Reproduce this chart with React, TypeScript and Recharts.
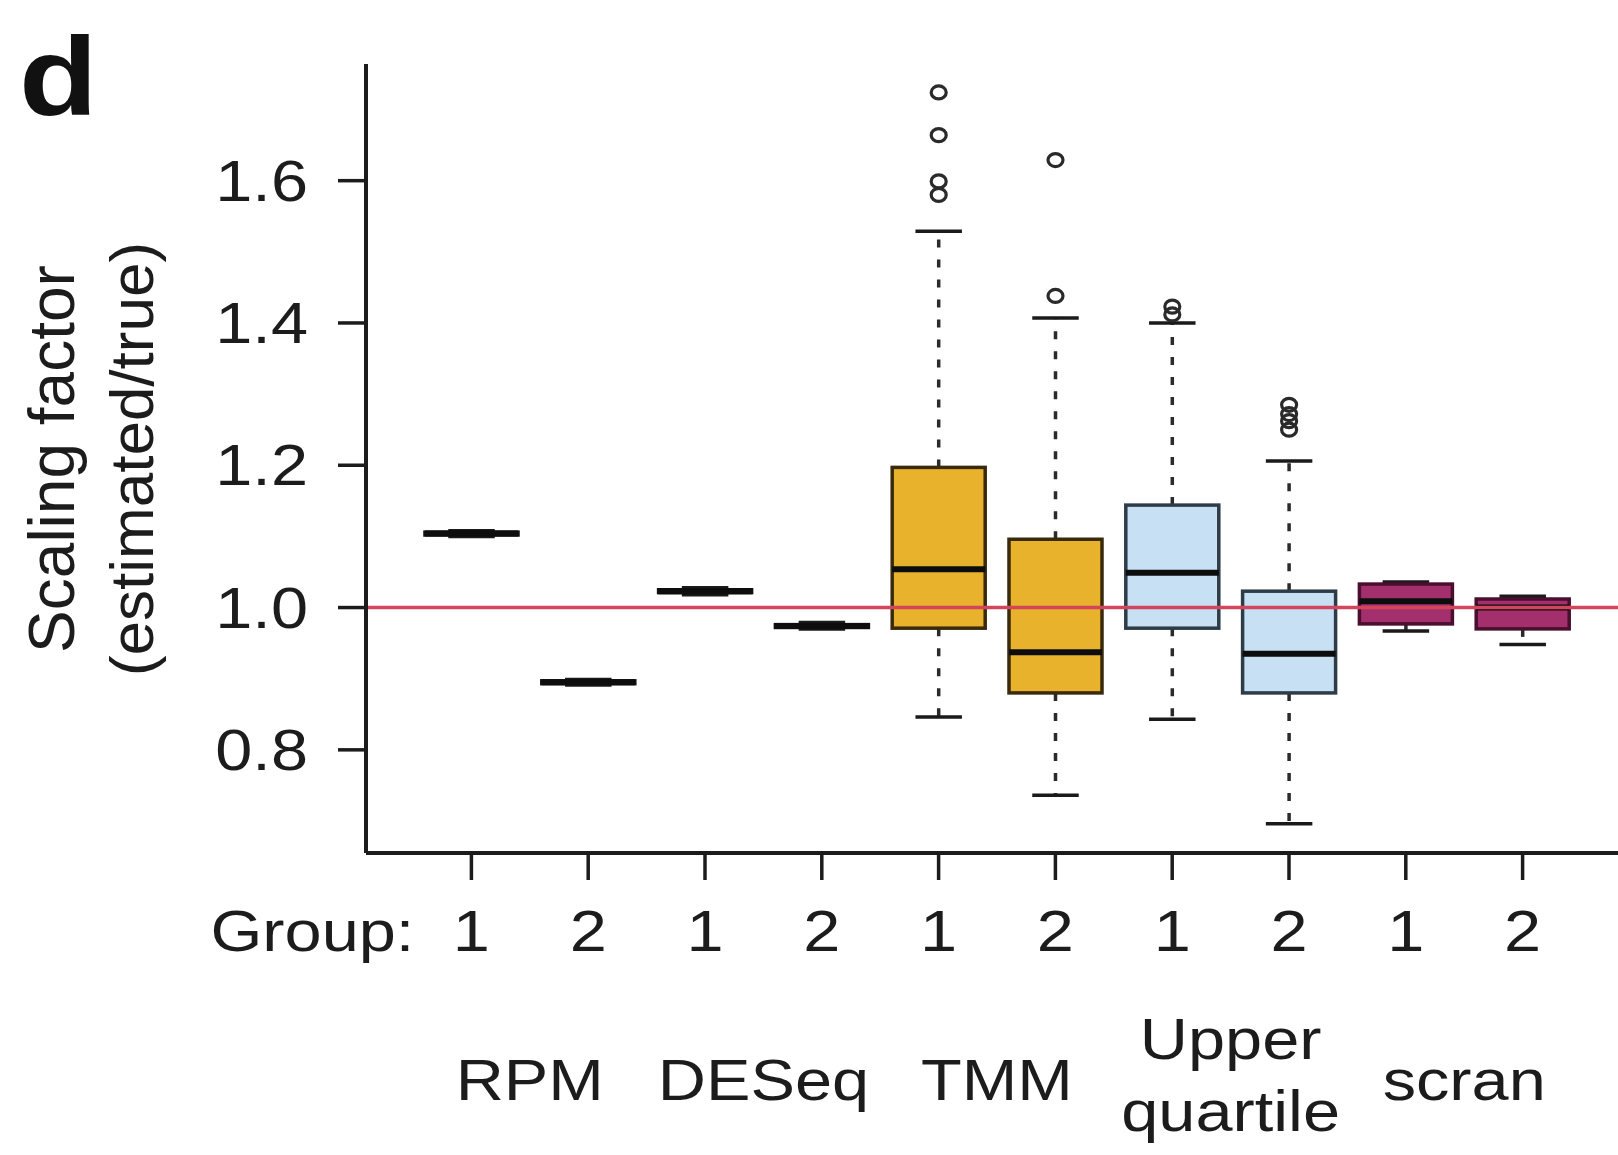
import React from 'react';
import { ComposedChart, Bar, XAxis, YAxis, ReferenceLine } from 'recharts';

// one slot per box, left to right
const SLOTS = ['RPM-1', 'RPM-2', 'DESeq-1', 'DESeq-2', 'TMM-1', 'TMM-2', 'UQ-1', 'UQ-2', 'scran-1', 'scran-2'];
const GROUP_LABELS = ['1', '2', '1', '2', '1', '2', '1', '2', '1', '2'];
const METHODS = [['RPM'], ['DESeq'], ['TMM'], ['Upper', 'quartile'], ['scran']];

// five-number summaries
const WHISKER_LO = [1.1, 0.891, 1.018, 0.97, 0.846, 0.736, 0.843, 0.696, 0.967, 0.948];
const Q1 = [1.102, 0.893, 1.021, 0.972, 0.971, 0.88, 0.971, 0.88, 0.977, 0.97];
const MEDIAN = [1.104, 0.895, 1.023, 0.974, 1.054, 0.937, 1.049, 0.935, 1.009, 1.0];
const Q3 = [1.106, 0.897, 1.025, 0.976, 1.197, 1.096, 1.144, 1.023, 1.033, 1.012];
const WHISKER_HI = [1.108, 0.899, 1.028, 0.979, 1.529, 1.407, 1.4, 1.206, 1.036, 1.016];
const OUTLIERS = [
  [],
  [],
  [],
  [],
  [1.724, 1.664, 1.599, 1.58],
  [1.629, 1.438],
  [1.423, 1.412],
  [1.285, 1.272, 1.262, 1.25],
  [],
  [],
];

const Y_TICKS = [0.8, 1.0, 1.2, 1.4, 1.6];

const FILLS = ['#222', '#222', '#222', '#222', '#E8B22D', '#E8B22D', '#C8E0F4', '#C8E0F4', '#A3306C', '#A3306C'];
const BORDERS = ['#111', '#111', '#111', '#111', '#3a2a0c', '#3a2a0c', '#2e3c47', '#2e3c47', '#4a0f2e', '#4a0f2e'];

const INK = '#1c1c1c';
const FONT = '"Liberation Sans", Arial, Helvetica, sans-serif';
const STRETCH = 1.15;

const rows = SLOTS.map((slot, i) => {
  const all = [WHISKER_LO[i], WHISKER_HI[i], ...OUTLIERS[i]];
  return {
    slot,
    group: GROUP_LABELS[i],
    lo: WHISKER_LO[i],
    q1: Q1[i],
    med: MEDIAN[i],
    q3: Q3[i],
    hi: WHISKER_HI[i],
    outliers: OUTLIERS[i],
    fill: FILLS[i],
    border: BORDERS[i],
    extent: [Math.min(...all), Math.max(...all)],
  };
});

// draws a whole R-style box (whiskers, staples, box, median, outliers) inside the bar's extent
function BoxShape(props: any) {
  const { x, y, width, height, payload } = props;
  if (!payload) return null;
  const [bottomV, topV] = payload.extent;
  const top = Math.min(y, y + height);
  const pxPerUnit = Math.abs(height) / (topV - bottomV);
  const py = (v: number) => top + (topV - v) * pxPerUnit;
  const cx = x + width / 2;
  const half = width / 4;
  return (
    <g>
      <line x1={cx} x2={cx} y1={py(payload.q3)} y2={py(payload.hi)} stroke="#2a2a2a" strokeWidth={3.5} strokeDasharray="8 12" />
      <line x1={cx} x2={cx} y1={py(payload.q1)} y2={py(payload.lo)} stroke="#2a2a2a" strokeWidth={3.5} strokeDasharray="8 12" />
      <line x1={cx - half} x2={cx + half} y1={py(payload.hi)} y2={py(payload.hi)} stroke="#1a1a1a" strokeWidth={3.5} />
      <line x1={cx - half} x2={cx + half} y1={py(payload.lo)} y2={py(payload.lo)} stroke="#1a1a1a" strokeWidth={3.5} />
      <rect
        x={x}
        y={py(payload.q3)}
        width={width}
        height={py(payload.q1) - py(payload.q3)}
        fill={payload.fill}
        stroke={payload.border}
        strokeWidth={3.5}
      />
      <line x1={x} x2={x + width} y1={py(payload.med)} y2={py(payload.med)} stroke="#0d0d0d" strokeWidth={6} />
      {payload.outliers.map((o: number, k: number) => (
        <ellipse key={k} cx={cx} cy={py(o)} rx={7.5} ry={6.5} fill="none" stroke="#2a2a2a" strokeWidth={3.2} />
      ))}
    </g>
  );
}

function GroupTick(props: any) {
  const { x, y, payload } = props;
  const index = payload.index ?? 0;
  const halfBand = payload.offset || 58;
  const method = index % 2 === 1 ? METHODS[(index - 1) / 2] : null;
  const textProps = { fill: INK, fontFamily: FONT, fontSize: 58 };
  return (
    <g>
      <g transform={`translate(${x},${y + 71}) scale(${STRETCH},1)`}>
        <text {...textProps} textAnchor="middle">{payload.value.split('-')[1]}</text>
      </g>
      {index === 0 && (
        <g transform={`translate(${x - 57},${y + 71}) scale(${STRETCH},1)`}>
          <text {...textProps} textAnchor="end">Group:</text>
        </g>
      )}
      {method && method.length === 1 && (
        <g transform={`translate(${x - halfBand},${y + 220}) scale(${STRETCH},1)`}>
          <text {...textProps} textAnchor="middle">{method[0]}</text>
        </g>
      )}
      {method && method.length === 2 && (
        <>
          <g transform={`translate(${x - halfBand},${y + 179}) scale(${STRETCH},1)`}>
            <text {...textProps} textAnchor="middle">{method[0]}</text>
          </g>
          <g transform={`translate(${x - halfBand},${y + 251}) scale(${STRETCH},1)`}>
            <text {...textProps} textAnchor="middle">{method[1]}</text>
          </g>
        </>
      )}
    </g>
  );
}

function ValueTick(props: any) {
  const { x, y, payload } = props;
  return (
    <g transform={`translate(${x - 30},${y + 20}) scale(${STRETCH},1)`}>
      <text fill={INK} fontFamily={FONT} fontSize={58} textAnchor="end">
        {Number(payload.value).toFixed(1)}
      </text>
    </g>
  );
}

export default function App() {
  return (
    <div style={{ position: 'absolute', left: 0, top: 0, width: 1618, height: 1155, background: '#fff', overflow: 'hidden' }}>
      <ComposedChart width={1618} height={1155} data={rows} margin={{ top: 64, right: 0, bottom: 0, left: 0 }}>
        <XAxis
          dataKey="slot"
          type="category"
          interval={0}
          height={302}
          padding={{ left: 47, right: 37 }}
          axisLine={{ stroke: INK, strokeWidth: 4 }}
          tickLine={{ stroke: INK, strokeWidth: 3.5 }}
          tickSize={27}
          tickMargin={0}
          tick={(p: any) => <GroupTick {...p} />}
        />
        <YAxis
          type="number"
          domain={[0.655, 1.764]}
          ticks={Y_TICKS}
          allowDataOverflow
          width={366}
          axisLine={{ stroke: INK, strokeWidth: 4 }}
          tickLine={{ stroke: INK, strokeWidth: 3.5 }}
          tickSize={28}
          tickMargin={0}
          tick={(p: any) => <ValueTick {...p} />}
        />
        <Bar dataKey="extent" barSize={93} shape={(p: any) => <BoxShape {...p} />} isAnimationActive={false} />
        <ReferenceLine y={1} stroke="#D2455C" strokeWidth={3.5} ifOverflow="extendDomain" />
      </ComposedChart>
      <svg width={1618} height={1155} style={{ position: 'absolute', left: 0, top: 0, pointerEvents: 'none' }}>
        <g transform={`translate(19,115) scale(${STRETCH},1)`}>
          <text fill="#111" fontFamily={FONT} fontWeight="bold" fontSize={112}>d</text>
        </g>
        <text transform="translate(74,459) rotate(-90)" fill={INK} fontFamily={FONT} fontSize={64} textAnchor="middle">
          Scaling factor
        </text>
        <text transform="translate(153,459) rotate(-90)" fill={INK} fontFamily={FONT} fontSize={62} textAnchor="middle">
          (estimated/true)
        </text>
      </svg>
    </div>
  );
}
